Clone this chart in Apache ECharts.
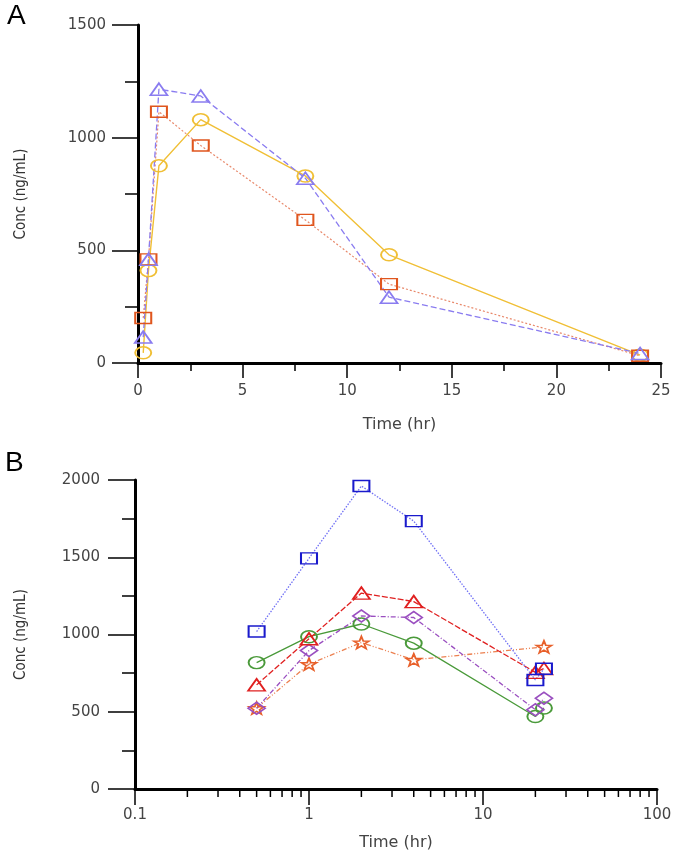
<!DOCTYPE html>
<html>
<head>
<meta charset="utf-8">
<script src="https://cdn.jsdelivr.net/npm/echarts@6/dist/echarts.min.js"></script>
<style>
html,body{margin:0;padding:0;background:#fff;}
#chart{width:677px;height:853px;}
</style>
</head>
<body>
<div id="chart"></div>
<script>
// ---------- Panel A data ----------
const timeA = [0.25, 0.5, 1, 3, 8, 12, 24];
const circlesA = [45, 410, 875, 1080, 830, 480, 35];
const squaresA = [200, 460, 1115, 965, 635, 350, 32];
const trianglesA = [115, 460, 1215, 1185, 820, 292, 42];
const yTicksA = [0, 500, 1000, 1500];
const xTicksA = [0, 5, 10, 15, 20, 25];

// ---------- Panel B data ----------
const timeB = [0.5, 1, 2, 4, 20, 22.4];
const squaresB = [1019, 1493, 1961, 1734, 706, 778];
const trianglesB = [674, 972, 1268, 1213, 755, 780];
const diamondsB = [523, 896, 1120, 1110, 513, 588];
const circlesB = [818, 986, 1068, 944, 469, 524];
const starsB = [523, 808, 948, 836, null, 920];
const yTicksB = [0, 500, 1000, 1500, 2000];
const xTicksB = [0.1, 1, 10, 100];
const minorTicksB = [0.2, 0.3, 0.4, 0.5, 0.6, 0.7, 0.8, 0.9,
                     2, 3, 4, 5, 6, 7, 8, 9,
                     20, 30, 40, 50, 60, 70, 80, 90];

const STAR = 'path://M0,-10 L2.35,-3.24 L9.51,-3.09 L3.8,1.24 L5.88,8.09 L0,4 L-5.88,8.09 L-3.8,1.24 L-9.51,-3.09 L-2.35,-3.24 Z';

function pairs(xs, ys) { return xs.map((x, i) => [x, ys[i]]); }
function plain(v) { return String(+(+v).toPrecision(4)); }

const labelFont = { fontFamily: 'DejaVu Sans', color: '#444', formatter: plain };
const titleFontY = { fontFamily: "'DejaVu Sans Condensed', 'Liberation Sans Narrow', 'DejaVu Sans'", fontSize: 15, color: '#333' };
const titleFontX = { fontFamily: 'DejaVu Sans', fontSize: 16, color: '#444' };

function lineSeries(xi, data, color, lineColor, type, symbol, size, width) {
  return {
    type: 'line', xAxisIndex: xi, yAxisIndex: xi, data: data,
    symbol: symbol, symbolSize: size, showAllSymbol: true, connectNulls: true,
    lineStyle: { color: lineColor, width: width, type: type },
    itemStyle: { color: 'rgba(255,255,255,0)', borderColor: color, borderWidth: 1.7 },
    animation: false, silent: true, z: 3
  };
}

const chart = echarts.init(document.getElementById('chart'), null, { renderer: 'canvas' });

const option = {
  backgroundColor: '#fff',
  animation: false,
  grid: [
    { left: 138, top: 25, width: 523, height: 338 },
    { left: 135, top: 480, width: 522, height: 309 }
  ],
  xAxis: [
    {
      gridIndex: 0, type: 'value', min: xTicksA[0], max: xTicksA[xTicksA.length - 1], interval: 5,
      name: 'Time (hr)', nameLocation: 'middle', nameGap: 54, nameTextStyle: titleFontX,
      axisLine: { onZero: false, lineStyle: { color: '#000', width: 3 } },
      axisTick: { show: true, length: 15, lineStyle: { color: '#000', width: 1.5 } },
      minorTick: { show: true, splitNumber: 2, length: 8, lineStyle: { color: '#000', width: 1.5 } },
      axisLabel: Object.assign({ fontSize: 15, margin: 21 }, labelFont),
      splitLine: { show: false }
    },
    {
      gridIndex: 1, type: 'log', logBase: 10, min: xTicksB[0], max: xTicksB[xTicksB.length - 1],
      name: 'Time (hr)', nameLocation: 'middle', nameGap: 46, nameTextStyle: titleFontX,
      axisLine: { onZero: false, lineStyle: { color: '#000', width: 3 } },
      axisTick: { show: true, length: 16, lineStyle: { color: '#000', width: 1.5 } },
      minorTick: { show: false },
      axisLabel: Object.assign({ fontSize: 15, margin: 19 }, labelFont),
      splitLine: { show: false }
    }
  ],
  yAxis: [
    {
      gridIndex: 0, type: 'value', min: yTicksA[0], max: yTicksA[yTicksA.length - 1], interval: 500,
      name: 'Conc (ng/mL)', nameLocation: 'middle', nameGap: 109, nameTextStyle: titleFontY,
      axisLine: { onZero: false, lineStyle: { color: '#000', width: 3 } },
      axisTick: { show: true, length: 26, lineStyle: { color: '#000', width: 1.5 } },
      minorTick: { show: true, splitNumber: 2, length: 13, lineStyle: { color: '#000', width: 1.5 } },
      axisLabel: Object.assign({ fontSize: 15, margin: 32 }, labelFont),
      splitLine: { show: false }
    },
    {
      gridIndex: 1, type: 'value', min: yTicksB[0], max: yTicksB[yTicksB.length - 1], interval: 500,
      name: 'Conc (ng/mL)', nameLocation: 'middle', nameGap: 106, nameTextStyle: titleFontY,
      axisLine: { onZero: false, lineStyle: { color: '#000', width: 3 } },
      axisTick: { show: true, length: 27, lineStyle: { color: '#000', width: 1.5 } },
      minorTick: { show: true, splitNumber: 2, length: 13, lineStyle: { color: '#000', width: 1.5 } },
      axisLabel: Object.assign({ fontSize: 15, margin: 35 }, labelFont),
      splitLine: { show: false }
    }
  ],
  graphic: [
    { type: 'text', left: 7, top: 2, style: { text: 'A', fontFamily: 'Liberation Sans', fontSize: 28, fill: '#000' } },
    { type: 'text', left: 5, top: 449, style: { text: 'B', fontFamily: 'Liberation Sans', fontSize: 28, fill: '#000' } }
  ],
  series: [
    // Panel A
    lineSeries(0, pairs(timeA, circlesA), '#f0bf35', '#f0bf35', 'solid', 'circle', [16, 12], 1.4),
    lineSeries(0, pairs(timeA, squaresA), '#e0561e', '#e8886a', [2, 2], 'rect', [16, 11], 1.2),
    lineSeries(0, pairs(timeA, trianglesA), '#8a7cf0', '#8a7cf0', [6, 3], 'triangle', [17, 12], 1.3),
    // Panel B
    lineSeries(1, pairs(timeB, circlesB), '#4a9a3a', '#4a9a3a', 'solid', 'circle', [16, 12], 1.3),
    lineSeries(1, pairs(timeB, starsB), '#e8602a', '#ec8050', [5, 2, 1, 2, 1, 2], STAR, [15, 12], 1.3),
    lineSeries(1, pairs(timeB, diamondsB), '#9a4fc0', '#9a4fc0', [5, 2, 1, 2], 'diamond', [17, 12], 1.3),
    lineSeries(1, pairs(timeB, trianglesB), '#e02020', '#e02020', [6, 2], 'triangle', [17, 12], 1.3),
    lineSeries(1, pairs(timeB, squaresB), '#1a1acc', '#6f6ff5', [1.5, 1.5], 'rect', [16, 11], 1.3),
    // log-axis minor ticks, positioned via the axis scale
    {
      type: 'custom', xAxisIndex: 1, yAxisIndex: 1, silent: true, clip: false, animation: false,
      data: minorTicksB.map(v => [v, 0]),
      encode: { x: 0, y: 1 },
      renderItem: function (params, api) {
        const p = api.coord([api.value(0), 0]);
        return { type: 'line', shape: { x1: p[0], y1: p[1] + 1, x2: p[0], y2: p[1] + 8 },
                 style: { stroke: '#000', lineWidth: 1.5 } };
      },
      z: 5
    }
  ]
};
chart.setOption(option);
</script>
</body>
</html>
